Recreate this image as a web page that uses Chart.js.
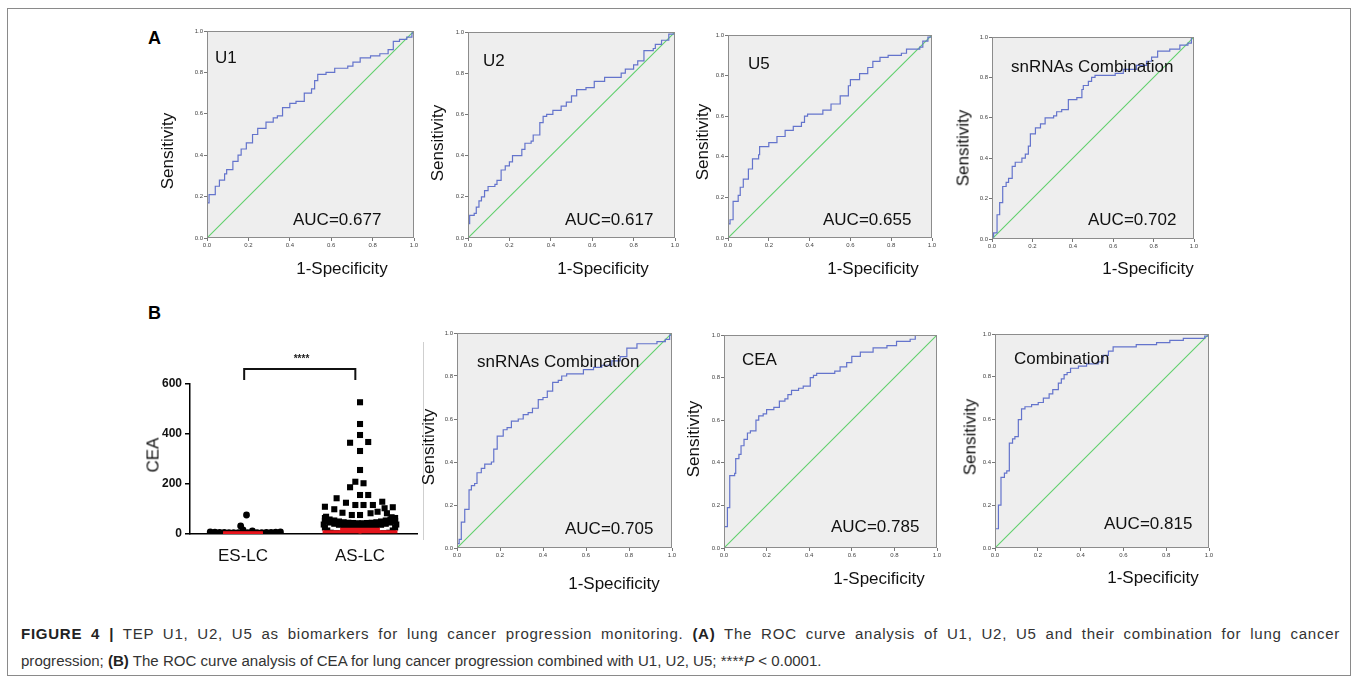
<!DOCTYPE html>
<html>
<head>
<meta charset="utf-8">
<script src="https://cdn.jsdelivr.net/npm/chart.js@4.4.0/dist/chart.umd.min.js"></script>
<style>
  body { margin:0; background:#fff; width:1358px; height:683px; position:relative; overflow:hidden;
         font-family:"Liberation Sans", Arial, sans-serif; }
  .frame { position:absolute; left:7px; top:8px; width:1344px; height:668px; border:1px solid #8a8a8a; box-sizing:border-box; }
  .t { position:absolute; white-space:nowrap; color:#111; font-size:17px; line-height:1; }
  .panel { position:absolute; font-weight:bold; font-size:18px; color:#000; line-height:1; }
  .sep { position:absolute; left:423px; top:342px; width:1px; height:198px; background:#cfcfcf; }
  .cap { position:absolute; left:21px; white-space:nowrap; font-size:16px; color:#333; line-height:1; }
  .cap b { color:#222; }
</style>
</head>
<body>
<div class="frame"></div>
<div class="panel" style="left:148px;top:29px">A</div>
<div class="panel" style="left:148px;top:304px">B</div>
<div class="sep"></div>
<div class="cap" id="cap1" style="top:626px"><b>FIGURE 4 |</b> TEP U1, U2, U5 as biomarkers for lung cancer progression monitoring. <b>(A)</b> The ROC curve analysis of U1, U2, U5 and their combination for lung cancer</div>
<div class="cap" id="cap2" style="top:653px">progression; <b>(B)</b> The ROC curve analysis of CEA for lung cancer progression combined with U1, U2, U5; ****<i>P</i> &lt; 0.0001.</div>

<script>
// ---- data ----
const rocTicks = [0, 0.2, 0.4, 0.6, 0.8, 1.0];
const diagX = [0, 1];
const diagY = [0, 1];

const u1Fpr = [0,0,0.01,0.04,0.06,0.085,0.095,0.125,0.15,0.165,0.19,0.22,0.245,0.285,0.32,0.34,0.365,0.40,0.43,0.47,0.505,0.52,0.535,0.575,0.617,0.68,0.705,0.74,0.79,0.835,0.875,0.90,0.93,0.965,0.99,1];
const u1Tpr = [0,0.17,0.21,0.25,0.28,0.31,0.33,0.37,0.40,0.43,0.46,0.50,0.53,0.56,0.58,0.59,0.63,0.65,0.66,0.70,0.72,0.76,0.79,0.80,0.82,0.83,0.85,0.87,0.88,0.89,0.91,0.95,0.96,0.97,0.99,1];

const u2Fpr = [0,0,0.008,0.03,0.04,0.053,0.065,0.08,0.097,0.13,0.14,0.16,0.18,0.20,0.215,0.26,0.275,0.305,0.315,0.347,0.363,0.38,0.41,0.45,0.475,0.50,0.525,0.57,0.61,0.66,0.74,0.76,0.80,0.82,0.85,0.895,0.905,0.935,0.97,1];
const u2Tpr = [0,0.07,0.11,0.12,0.15,0.18,0.20,0.23,0.25,0.26,0.28,0.33,0.35,0.37,0.40,0.43,0.46,0.47,0.50,0.56,0.59,0.60,0.62,0.64,0.66,0.69,0.72,0.73,0.76,0.78,0.80,0.82,0.84,0.86,0.91,0.92,0.94,0.96,0.99,1];

const u5Fpr = [0,0,0.01,0.025,0.05,0.06,0.075,0.10,0.12,0.15,0.155,0.20,0.24,0.28,0.32,0.36,0.375,0.39,0.465,0.505,0.55,0.59,0.60,0.645,0.685,0.71,0.745,0.785,0.85,0.875,0.94,0.955,0.98,1];
const u5Tpr = [0,0.07,0.09,0.18,0.21,0.25,0.29,0.34,0.39,0.41,0.45,0.47,0.50,0.53,0.55,0.57,0.60,0.61,0.63,0.66,0.70,0.75,0.78,0.81,0.84,0.87,0.89,0.90,0.91,0.93,0.94,0.97,0.99,1];

const snaFpr = [0,0,0.008,0.025,0.038,0.053,0.07,0.082,0.10,0.115,0.148,0.165,0.18,0.19,0.215,0.24,0.263,0.305,0.32,0.345,0.378,0.42,0.445,0.452,0.477,0.493,0.51,0.567,0.61,0.65,0.715,0.765,0.79,0.82,0.88,0.93,0.97,0.987,1];
const snaTpr = [0,0.01,0.03,0.12,0.18,0.26,0.28,0.30,0.36,0.38,0.40,0.42,0.46,0.52,0.55,0.57,0.60,0.61,0.63,0.64,0.69,0.70,0.74,0.76,0.78,0.80,0.81,0.81,0.82,0.84,0.86,0.88,0.90,0.93,0.94,0.96,0.97,1.0,1];

const snbFpr = [0,0,0.01,0.02,0.036,0.056,0.067,0.082,0.093,0.113,0.129,0.16,0.171,0.187,0.215,0.233,0.253,0.285,0.308,0.331,0.351,0.378,0.40,0.42,0.445,0.471,0.487,0.51,0.588,0.635,0.673,0.72,0.759,0.79,0.837,0.93,0.969,0.989,1];
const snbTpr = [0,0.02,0.04,0.12,0.18,0.27,0.29,0.30,0.35,0.37,0.39,0.40,0.46,0.52,0.55,0.56,0.59,0.60,0.62,0.63,0.65,0.69,0.70,0.73,0.77,0.78,0.80,0.81,0.83,0.84,0.85,0.87,0.89,0.93,0.95,0.96,0.97,0.99,1];

const ceaFpr = [0,0,0.016,0.027,0.05,0.055,0.07,0.08,0.094,0.11,0.124,0.15,0.163,0.184,0.20,0.234,0.26,0.286,0.30,0.317,0.35,0.372,0.405,0.42,0.435,0.52,0.545,0.576,0.60,0.64,0.70,0.765,0.81,0.874,0.898,1];
const ceaTpr = [0,0.10,0.19,0.34,0.35,0.42,0.44,0.48,0.51,0.54,0.55,0.60,0.62,0.63,0.65,0.66,0.69,0.70,0.72,0.74,0.75,0.76,0.80,0.81,0.82,0.83,0.85,0.87,0.90,0.92,0.94,0.95,0.97,0.98,1.0,1];

const cmbFpr = [0,0,0.016,0.028,0.044,0.055,0.067,0.082,0.093,0.109,0.124,0.14,0.171,0.202,0.226,0.253,0.27,0.296,0.31,0.323,0.337,0.353,0.39,0.428,0.482,0.505,0.53,0.552,0.66,0.755,0.817,0.88,0.98,1];
const cmbTpr = [0,0.09,0.20,0.33,0.35,0.36,0.49,0.51,0.52,0.60,0.65,0.66,0.67,0.68,0.70,0.72,0.74,0.77,0.79,0.81,0.82,0.84,0.85,0.86,0.87,0.90,0.92,0.94,0.95,0.96,0.97,0.98,0.99,1];

// CEA scatter (panel B, left)
const groups = ['ES-LC', 'AS-LC'];
const ceaTicks = [0, 200, 400, 600];
const esCEA = [76,32,16,12,
  8,7,6,6,5,5,5,5,5,5,5,5,6,6,7,8,
  2,2,1,1,1,1,1,1,1,2,2];
const esJitter = [0.03,-0.02,0,0.08,
  -0.28,-0.24,-0.20,-0.16,-0.12,-0.08,-0.04,0,0.04,0.08,0.12,0.16,0.20,0.24,0.28,0.32,
  -0.20,-0.16,-0.12,-0.08,-0.04,0,0.04,0.08,0.12,0.16,0.20];
const asCEA = [527,440,396,365,368,332,256,209,203,187,156,156,143,125,116,116,116,129,109,99,103,107,85,76,76,83,89,83,69,67,
  64,58,54,50,47,45,44,43,43,44,45,47,50,54,58,64,
  52,46,41,37,34,32,31,30,30,31,32,34,37,41,46,52,
  38,26,14,5,5,14,26,38,
  3,2,2,2,2,2,2,2,3];
const asJitter = [0,0,0,-0.085,0.07,0,0,-0.04,0.03,-0.085,0,0.07,-0.2,-0.12,-0.04,0.03,0.11,0.19,-0.30,-0.22,0.21,0.28,-0.15,-0.07,0,0.09,0.15,0.23,-0.29,0.27,
  -0.30,-0.26,-0.22,-0.18,-0.14,-0.10,-0.06,-0.02,0.02,0.06,0.10,0.14,0.18,0.22,0.26,0.30,
  -0.30,-0.26,-0.22,-0.18,-0.14,-0.10,-0.06,-0.02,0.02,0.06,0.10,0.14,0.18,0.22,0.26,0.30,
  -0.31,-0.30,-0.28,-0.25,0.25,0.28,0.30,0.31,
  -0.20,-0.15,-0.10,-0.05,0,0.05,0.10,0.15,0.20];
const medians = [3, 9];
const q1 = [1, 2];
const q3 = [5, 19];
const sigLabel = '****';

// ---- helpers ----
function txt(s, x, y, mode, extra) {
  const d = document.createElement('div');
  d.className = 't';
  d.textContent = s;
  let tf = 'translateY(-50%)';
  if (mode === 'c') tf = 'translate(-50%,-50%)';
  if (mode === 'v') tf = 'translate(-50%,-50%) rotate(-90deg)';
  d.style.left = x + 'px';
  d.style.top = y + 'px';
  d.style.transform = tf;
  if (extra) Object.assign(d.style, extra);
  document.body.appendChild(d);
}

function addCanvas(left, top, w, h) {
  const cv = document.createElement('canvas');
  cv.width = w; cv.height = h;
  cv.style.cssText = `position:absolute;left:${left}px;top:${top}px;width:${w}px;height:${h}px`;
  document.body.appendChild(cv);
  return cv;
}

const plotFrame = {
  id: 'plotFrame',
  beforeDatasetsDraw(chart) {
    const a = chart.chartArea, ctx = chart.ctx;
    ctx.save();
    ctx.fillStyle = '#eeeeee';
    ctx.fillRect(a.left, a.top, a.right - a.left, a.bottom - a.top);
    ctx.restore();
  },
  afterDatasetsDraw(chart) {
    const a = chart.chartArea, ctx = chart.ctx;
    ctx.save();
    ctx.strokeStyle = '#8c8c8c';
    ctx.lineWidth = 1;
    ctx.strokeRect(a.left + 0.5, a.top + 0.5, a.right - a.left - 1, a.bottom - a.top - 1);
    ctx.restore();
  }
};

function rocAxis(fitKey, fitVal) {
  return {
    type: 'linear', min: 0, max: 1,
    afterBuildTicks: s => { s.ticks = rocTicks.map(v => ({ value: v })); },
    afterFit: s => { s[fitKey] = fitVal; },
    ticks: { font: { size: 6, family: 'Liberation Sans' }, color: '#444', padding: 1, maxRotation: 0,
             callback: v => Number(v).toFixed(1) },
    grid: { drawOnChartArea: false, tickLength: 3, color: '#777' },
    border: { display: false }
  };
}

function makeRoc(fpr, tpr, box, name, auc, nameXY, aucXY, sensXY, specXY) {
  const [x0, y0, x1, y1] = box;
  const cv = addCanvas(x0 - 20, y0 - 6, x1 - x0 + 28, y1 - y0 + 20);
  new Chart(cv, {
    type: 'scatter',
    data: { datasets: [
      { data: fpr.map((x, i) => ({ x, y: tpr[i] })), showLine: true, stepped: 'before',
        borderColor: '#6474cc', borderWidth: 1.2, pointRadius: 0, order: 0 },
      { data: diagX.map((x, i) => ({ x, y: diagY[i] })), showLine: true,
        borderColor: '#5fcf6c', borderWidth: 1.1, pointRadius: 0, order: 1 }
    ]},
    options: {
      responsive: false, animation: false, events: [],
      layout: { padding: { top: 6, right: 8, left: 0, bottom: 0 } },
      plugins: { legend: { display: false }, tooltip: { enabled: false } },
      scales: { x: rocAxis('height', 14), y: rocAxis('width', 20) }
    },
    plugins: [plotFrame]
  });
  txt(name, nameXY[0], nameXY[1], 'l');
  txt('AUC=' + auc, aucXY[0], aucXY[1], 'l');
  txt('Sensitivity', sensXY[0], sensXY[1], 'v');
  txt('1-Specificity', specXY[0], specXY[1], 'c');
}

// ---- panel A ----
makeRoc(u1Fpr, u1Tpr, [207, 31, 414, 238], 'U1', '0.677', [215, 57], [293, 219], [167, 151], [342, 268]);
makeRoc(u2Fpr, u2Tpr, [468, 32, 675, 238], 'U2', '0.617', [483, 60], [565, 219], [437, 143], [603, 268]);
makeRoc(u5Fpr, u5Tpr, [728, 35, 932, 238], 'U5', '0.655', [748, 63], [823, 219], [702, 142], [873, 268]);
makeRoc(snaFpr, snaTpr, [992, 37, 1194, 239], 'snRNAs Combination', '0.702', [1011, 66], [1088, 219], [963, 148], [1148, 268]);

// ---- panel B ROC ----
makeRoc(snbFpr, snbTpr, [457, 333, 672, 548], 'snRNAs Combination', '0.705', [477, 361], [565, 528], [428, 447], [614, 583]);
makeRoc(ceaFpr, ceaTpr, [724, 335, 937, 548], 'CEA', '0.785', [742, 359], [831, 526], [693, 439], [879, 578]);
makeRoc(cmbFpr, cmbTpr, [995, 334, 1209, 548], 'Combination', '0.815', [1014, 358], [1104, 523], [970, 437], [1153, 577]);

// ---- panel B scatter ----
const sigBracket = {
  id: 'sigBracket',
  afterDraw(chart) {
    const xs = chart.scales.x, ys = chart.scales.y, ctx = chart.ctx;
    const xa = xs.getPixelForValue(1.01), xb = xs.getPixelForValue(1.96);
    const yTop = ys.getPixelForValue(660), yLeg = ys.getPixelForValue(616);
    ctx.save();
    ctx.strokeStyle = '#111'; ctx.lineWidth = 2;
    ctx.beginPath();
    ctx.moveTo(xa, yLeg); ctx.lineTo(xa, yTop); ctx.lineTo(xb, yTop); ctx.lineTo(xb, yLeg);
    ctx.stroke();
    ctx.fillStyle = '#222';
    ctx.font = 'bold 10px "Liberation Sans"';
    ctx.textAlign = 'center'; ctx.textBaseline = 'middle';
    ctx.fillText(sigLabel, xs.getPixelForValue(1.5), ys.getPixelForValue(700));
    ctx.restore();
  }
};

const medianSets = [];
medians.forEach((m, i) => {
  const c = i + 1, half = i === 0 ? 0.17 : 0.32;
  medianSets.push({ data: [{ x: c - half, y: m }, { x: c + half, y: m }] });
  medianSets.push({ data: [{ x: c - 0.17, y: q3[i] }, { x: c + 0.17, y: q3[i] }] });
  medianSets.push({ data: [{ x: c, y: q1[i] }, { x: c, y: q3[i] }] });
});
medianSets.forEach(d => Object.assign(d, { showLine: true, borderColor: '#e8141b', borderWidth: 3, pointRadius: 0, order: 0 }));

const scv = addCanvas(140, 339, 282, 230);
new Chart(scv, {
  type: 'scatter',
  data: { datasets: [
    { data: esCEA.map((v, i) => ({ x: 1 + esJitter[i], y: v })), pointStyle: 'circle', pointRadius: 3.4,
      backgroundColor: '#000', borderWidth: 0, order: 2 },
    { data: asCEA.map((v, i) => ({ x: 2 + asJitter[i], y: v })), pointStyle: 'rect', pointRadius: 4.3,
      backgroundColor: '#000', borderWidth: 0, order: 2 },
    ...medianSets
  ]},
  options: {
    responsive: false, animation: false, events: [],
    layout: { padding: { top: 45, right: 5, left: 0, bottom: 0 } },
    plugins: { legend: { display: false }, tooltip: { enabled: false } },
    scales: {
      x: {
        type: 'linear', min: 0.547, max: 2.487,
        afterBuildTicks: s => { s.ticks = groups.map((g, i) => ({ value: i + 1 })); },
        afterFit: s => { s.height = 35; },
        ticks: { font: { size: 17, family: 'Liberation Sans' }, color: '#111', padding: 12, maxRotation: 0,
                 callback: v => groups[Math.round(v) - 1] },
        grid: { display: false, drawTicks: false },
        border: { display: true, color: '#000', width: 1.5 }
      },
      y: {
        type: 'linear', min: 0, max: 600,
        afterBuildTicks: s => { s.ticks = ceaTicks.map(v => ({ value: v })); },
        afterFit: s => { s.width = 50; },
        ticks: { font: { size: 12, weight: 'bold', family: 'Liberation Sans' }, color: '#111', padding: 3 },
        grid: { drawOnChartArea: false, tickLength: 5, color: '#000', lineWidth: 1.5 },
        border: { display: true, color: '#000', width: 1.5 }
      }
    }
  },
  plugins: [sigBracket]
});
txt('CEA', 153, 455, 'v');

// caption: last line sets the font size, first line is stretched to the full width
const c1 = document.getElementById('cap1'), c2 = document.getElementById('cap2');
const fs = 16 * 801 / c2.getBoundingClientRect().width;
c1.style.fontSize = fs + 'px';
c2.style.fontSize = fs + 'px';
const extra = 1319 - c1.getBoundingClientRect().width;
const nChars = c1.textContent.length;
const gaps = (c1.textContent.match(/ /g) || []).length;
c1.style.letterSpacing = (extra * 0.5 / nChars) + 'px';
c1.style.wordSpacing = (extra * 0.5 / gaps) + 'px';
</script>
</body>
</html>
